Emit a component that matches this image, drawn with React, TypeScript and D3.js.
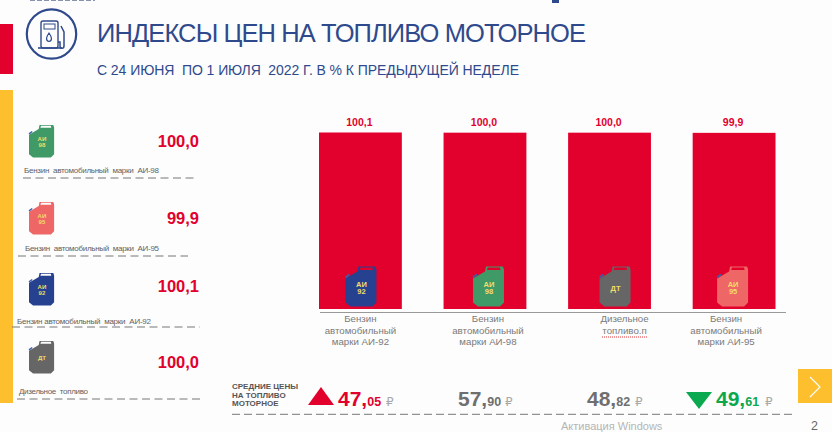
import * as d3 from "d3";

const categories = ["Бензин автомобильный марки АИ-92", "Бензин автомобильный марки АИ-98", "Дизельное топливо", "Бензин автомобильный марки АИ-95"];
const indexValues = [100.1, 100.0, 100.0, 99.9];
const canCodes = ["АИ 92", "АИ 98", "ДТ", "АИ 95"];
const canColors = ["#26418f", "#3f9a68", "#666666", "#ee6666"];

const sideLabels = ["Бензин  автомобильный  марки  АИ-98", "Бензин  автомобильный  марки  АИ-95", "Бензин автомобильный  марки  АИ-92", "Дизельное  топливо"];
const sideValues = [100.0, 99.9, 100.1, 100.0];
const sideCans = [1, 3, 0, 2];

const priceWhole = ["47", "57", "48", "49"];
const priceCents = ["05", "90", "82", "61"];
const priceColors = ["#e2002d", "#6f6f6f", "#6f6f6f", "#0aa84f"];

const RED = "#e2002d";
const BLUE = "#2f4a8c";
const YELLOW = "#fdbf2d";
const FONT = "'Liberation Sans', Arial, sans-serif";

const fmt = (v: number) => d3.format(".1f")(v).replace(".", ",");

function Can({x, y, k, color, code, slot}: {x: number, y: number, k: number, color: string, code: string, slot: string}) {
    const lines = code.split(" ");
    return (
        <g transform={`translate(${x},${y}) scale(${k})`}>
            <path d="M0,12 L12,5 L13,0 L30,0 L31,3 L31,36 L27,40 L5,40 L0,36 Z" fill={color} />
            <path d="M0,11 L4,8" stroke="#3a5fa8" strokeWidth={1.8} />
            <path d="M14,3.5 L15,1 L27,1 L27.5,3.5 Z" fill={slot} />
            {lines.map((t, i) => (
                <text key={i} x={16} y={(lines.length === 1 ? 24 : 20) + i * 7.5} textAnchor="middle" fontSize={7.5}
                      fontWeight="bold" fill="#f4dc6a">{t}</text>
            ))}
        </g>
    );
}

export default function App() {
    const xScale = d3.scaleBand<number>()
        .domain(d3.range(categories.length))
        .range([319, 775.5])
        .paddingInner(0.335)
        .paddingOuter(0);

    const yScale = d3.scaleLinear()
        .domain([0, 100.1])
        .range([309, 132.5]);

    // captions and cans are not centred on their bars in the slide
    const captionShift = [0, 3, 15, -8];
    const canShift = [0, 3, 5, -2];
    const captions = [
        ["Бензин", "автомобильный", "марки АИ-92"],
        ["Бензин", "автомобильный", "марки АИ-98"],
        ["Дизельное", "топливо.п"],
        ["Бензин", "автомобильный", "марки АИ-95"],
    ];

    const rowLayout = [
        {canY: 125, valueY: 147, labelX: 24, labelY: 173, labelW: 135, dashX: 23, dashEnd: 198, dashY: 178},
        {canY: 202, valueY: 224, labelX: 25, labelY: 251, labelW: 134, dashX: 18, dashEnd: 188, dashY: 256},
        {canY: 273, valueY: 292, labelX: 17, labelY: 324, labelW: 134, dashX: 12, dashEnd: 200, dashY: 327},
        {canY: 341, valueY: 368, labelX: 19, labelY: 394, labelW: 69, dashX: 17, dashEnd: 204, dashY: 399},
    ];

    const priceX = [338, 458, 587, 716];
    const rubleShift = [48, 47, 48, 49];

    return (
        <svg width={832} height={432} viewBox="0 0 832 432" fontFamily={FONT}
             style={{position: "fixed", left: 0, top: 0, background: "#fdfdfd"}}>
            <rect x={0} y={24} width={13} height={50} fill={RED} />
            <rect x={0} y={90} width={13} height={313} fill={YELLOW} />

            {/* bottoms of a header that the slide crops away */}
            <line x1={30} x2={95} y1={0.5} y2={0.5} stroke="#8a93ad" strokeDasharray="5 2" />
            <rect x={552} y={0} width={7} height={3} fill={BLUE} />

            {/* pump icon */}
            <g fill="none" stroke={BLUE}>
                <circle cx={51.5} cy={34} r={24.7} strokeWidth={2.2} />
                <rect x={41} y={21} width={17} height={27} rx={2} strokeWidth={1.4} />
                <rect x={44} y={24} width={11} height={5} strokeWidth={1} />
                <path d="M38,48 H62" strokeWidth={1.6} />
                <path d="M49,33 C46,37 45.5,41 49,41.5 C52.5,41 52,37 49,33 Z" strokeWidth={1.2} />
                <path d="M58,42 H60 V46 C60,49 64,49 64,46 V32 L61,26" strokeWidth={1.5} />
            </g>

            <text x={97} y={41.5} fontSize={25.5} fill={BLUE} textLength={489}>ИНДЕКСЫ ЦЕН НА ТОПЛИВО МОТОРНОЕ</text>
            <text x={97} y={75} fontSize={14} fill={BLUE} textLength={422} xmlSpace="preserve">С 24 ИЮНЯ  ПО 1 ИЮЛЯ  2022 Г. В % К ПРЕДЫДУЩЕЙ НЕДЕЛЕ</text>

            {/* left column */}
            {rowLayout.map((r, i) => (
                <g key={i}>
                    <Can x={29} y={r.canY} k={0.81} color={canColors[sideCans[i]]} code={canCodes[sideCans[i]]} slot="#fdfdfd" />
                    <text x={199} y={r.valueY} textAnchor="end" fontSize={16.5} fontWeight="bold" fill={RED}>{fmt(sideValues[i])}</text>
                    <text x={r.labelX} y={r.labelY} fontSize={8} fill="#5f5f5f" textLength={r.labelW} xmlSpace="preserve">{sideLabels[i]}</text>
                    <line x1={r.dashX} x2={r.dashEnd} y1={r.dashY} y2={r.dashY} stroke="#777" strokeDasharray="8 4.5" />
                </g>
            ))}

            {/* bars */}
            {indexValues.map((v, i) => (
                <g key={i}>
                    <rect x={xScale(i)} y={yScale(v)} width={xScale.bandwidth()} height={yScale(0) - yScale(v)} fill={RED} />
                    <text x={xScale(i)! + xScale.bandwidth() / 2 - 1} y={yScale(v) - 7} textAnchor="middle" fontSize={10.5}
                          fontWeight="bold" fill={RED}>{fmt(v)}</text>
                    <Can x={xScale(i)! + xScale.bandwidth() / 2 - 15 + canShift[i]} y={266.5} k={1} color={canColors[i]} code={canCodes[i]} slot={RED} />
                    {captions[i].map((line, j) => (
                        <text key={j} x={xScale(i)! + xScale.bandwidth() / 2 + captionShift[i]} y={322 + j * 11.7}
                              textAnchor="middle" fontSize={9.7} fill="#7a7a7a">{line}</text>
                    ))}
                </g>
            ))}
            <line x1={320} x2={786} y1={312.5} y2={312.5} stroke="#999" strokeWidth={1.2} />
            <line x1={602} x2={647} y1={337} y2={337} stroke="#d33" strokeDasharray="1 1" />

            {/* average prices */}
            <g fontSize={8} fontWeight="bold" fill="#555">
                <text x={232} y={389}>СРЕДНИЕ ЦЕНЫ</text>
                <text x={232} y={397.5}>НА ТОПЛИВО</text>
                <text x={232} y={406}>МОТОРНОЕ</text>
            </g>
            <path d="M308,405 L321,387 L334,405 Z" fill={RED} />
            <path d="M686,392 L712,392 L699,409 Z" fill="#0aa84f" />
            {priceWhole.map((w, i) => (
                <g key={i}>
                    <text x={priceX[i]} y={406} fontWeight="bold" fill={priceColors[i]}>
                        <tspan fontSize={21}>{w},</tspan>
                        <tspan fontSize={12.5}>{priceCents[i]}</tspan>
                    </text>
                    <text x={priceX[i] + rubleShift[i]} y={406} fontSize={12} fontFamily="'DejaVu Sans'" fill="#a8a8a8">₽</text>
                </g>
            ))}
            <line x1={232} x2={793} y1={414.3} y2={414.3} stroke="#777" strokeDasharray="8 4" />

            {/* next arrow */}
            <rect x={798} y={369} width={34} height={34} fill={YELLOW} />
            <path d="M810,377 L820,387 L810,397" fill="none" stroke="#fff" strokeWidth={1.2} />

            <text x={561} y={429.5} fontSize={11} fill="#b5b5b5">Активация Windows</text>
            <text x={811} y={429.5} fontSize={12.5} fill="#666">2</text>
        </svg>
    );
}
